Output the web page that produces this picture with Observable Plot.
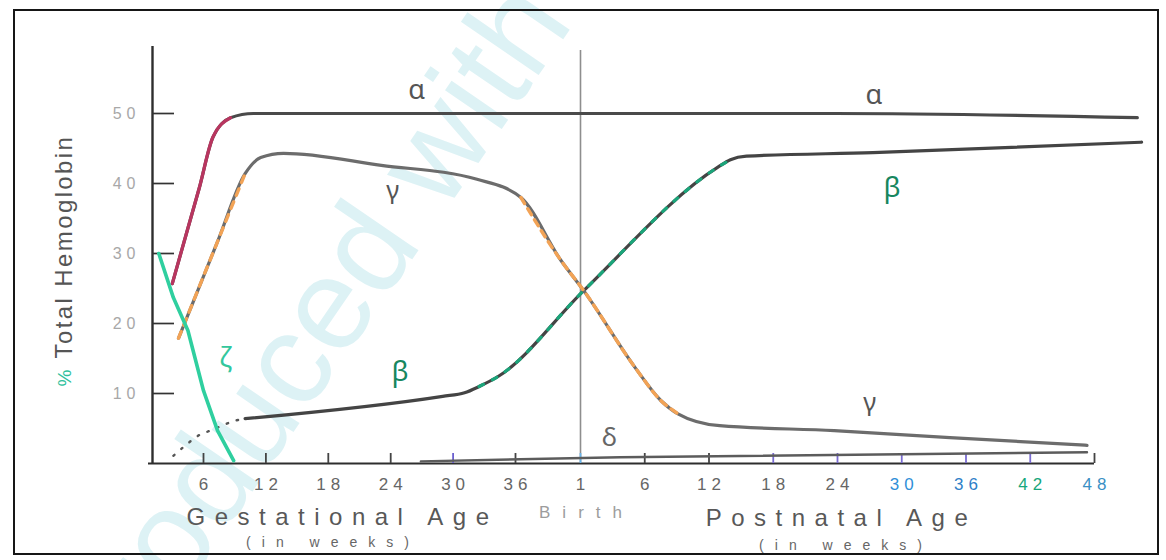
<!DOCTYPE html>
<html>
<head>
<meta charset="utf-8">
<script src="https://cdn.jsdelivr.net/npm/d3@7"></script>
<script src="https://cdn.jsdelivr.net/npm/@observablehq/plot@0.6"></script>
<style>
  html, body { margin: 0; padding: 0; background: #fff; }
  #wrap { position: relative; width: 1166px; height: 560px; overflow: hidden; background: #fff; }
  #wm { position: absolute; left: 0; top: 0; }
  #frame { position: absolute; left: 13px; top: 9px; width: 1146px; height: 546px; border: 2px solid #161616; box-sizing: border-box; }
  #chart { position: absolute; left: 0; top: 0; }
</style>
</head>
<body>
<div id="wrap">
  <svg id="wm" width="1166" height="560">
    <text transform="translate(22,827) rotate(-55.5)" font-family="Liberation Sans" font-size="130" fill="#ddf2f5">Reproduced with</text>
  </svg>
  <div id="frame"></div>
  <div id="chart"></div>
</div>
<script>
// ---------- data ----------
// shared week axis: gestational week w -> w, birth -> 42, postnatal week w -> 42 + w
const gestTickWeeks = [6, 12, 18, 24, 30, 36];
const postTickWeeks = [6, 12, 18, 24, 30, 36, 42, 48];
const birthPos = 42;
const birthTickLabel = "1";
const yTicks = [10, 20, 30, 40, 50];
const yTickLabels = ["10", "20", "30", "40", "50"];

const alphaWeek = [3.0, 5.6, 6.9, 8.6, 10.8, 65.7, 94.0];
const alphaPct  = [25.7, 39.4, 46.6, 49.4, 50.0, 50.0, 49.4];

const gammaWeek = [3.6, 7.35, 10.0, 11.5, 13.7, 23.1, 32.3, 36.5, 40.2, 42.3, 47.1, 49.5, 51.1, 55.0, 65.7, 76.5, 89.3];
const gammaPct  = [17.9, 31.7, 41.4, 43.7, 44.3, 42.6, 40.6, 38.0, 29.0, 24.7, 13.7, 9.0, 7.1, 5.4, 4.7, 3.7, 2.6];

const betaWeek = [10.0, 29.0, 31.1, 32.5, 34.4, 42.3, 54.8, 56.0, 57.5, 69.3, 94.4];
const betaPct  = [6.4, 9.6, 10.1, 11.0, 12.5, 24.7, 42.3, 43.4, 43.9, 44.4, 45.9];

const betaEarlyWeek = [3.1, 4.5, 5.5, 8.9, 10.0];
const betaEarlyPct  = [1.1, 2.9, 4.0, 6.1, 6.4];

const zetaWeek = [1.7, 3.1, 4.5, 6.0, 7.35, 8.9];
const zetaPct  = [30.0, 23.7, 19.0, 10.4, 4.7, 0.4];

const deltaWeek = [26.9, 45.7, 89.3];
const deltaPct  = [0.3, 0.9, 1.6];

const greekNames = ["α", "α", "γ", "γ", "β", "β", "ζ", "δ"];
const greekWeek  = [26.5, 69.4, 24.2, 69.0, 24.9, 71.1, 8.1, 44.7];
const greekPct   = [53.3, 52.6, 38.9, 8.7, 13.0, 39.4, 15.0, 3.7];

// ---------- styles ----------
const gestTickInk = ["#444", "#444", "#444", "#444", "#6b5fcf", "#444"];
const birthTickInk = "#69b4ea";
const postTickInk = ["#444", "#444", "#7a6cd2", "#7a6cd2", "#7a6cd2", "#7a6cd2", "#7a6cd2", "#444"];
const gestLabelInk = "#666";
const postLabelInk = ["#666", "#666", "#666", "#666", "#2f8fd8", "#2f7fc8", "#16a67c", "#3a90c4"];
const greekStyle = {
  "α": {fill: "#555", font: "Liberation Serif", size: 27, weight: "normal"},
  "γ": {fill: "#555", font: "Liberation Serif", size: 25, weight: "normal"},
  "β": {fill: "#17875f", font: "Liberation Sans", size: 28, weight: "bold"},
  "ζ": {fill: "#33c79d", font: "Liberation Sans", size: 27, weight: "normal"},
  "δ": {fill: "#666", font: "Liberation Serif", size: 26, weight: "normal"}
};

// ---------- tables ----------
const rows = (xs, ys) => xs.map((x, i) => ({x, y: ys[i]}));
const alpha = rows(alphaWeek, alphaPct);
const gamma = rows(gammaWeek, gammaPct);
const beta = rows(betaWeek, betaPct);
const betaEarly = rows(betaEarlyWeek, betaEarlyPct);
const zeta = rows(zetaWeek, zetaPct);
const delta = rows(deltaWeek, deltaPct);
const greek = greekNames.map((t, i) => ({t, x: greekWeek[i], y: greekPct[i], ...greekStyle[t]}));

const xTickRows = [
  ...gestTickWeeks.map((w, i) => ({pos: w, label: String(w), tick: gestTickInk[i], ink: gestLabelInk})),
  {pos: birthPos, label: birthTickLabel, tick: birthTickInk, ink: gestLabelInk},
  ...postTickWeeks.map((w, i) => ({pos: birthPos + w, label: String(w), tick: postTickInk[i], ink: postLabelInk[i]}))
];

// ---------- scales (piecewise to follow the hand-drawn axis) ----------
const xDomain = [6, 36, birthPos, birthPos + 48];
const xRange = [203, 515, 580, 1094];
const yDomain = [0, 50];
const yRange = [463, 113];
const xsc = d3.scaleLinear(xDomain, xRange);
const ysc = d3.scaleLinear(yDomain, yRange);
const yAxisPos = xsc.invert(152);
const xAxisStart = xsc.invert(148);
const xAxisEnd = birthPos + postTickWeeks[postTickWeeks.length - 1];
const yAxisTop = ysc.invert(46);
const birthTop = ysc.invert(50);
const yTickEnd = xsc.invert(xsc(yAxisPos) + 22);
const xTickTop = ysc.invert(ysc(0) - 10);

const curve = "monotone-x";
const sans = "Liberation Sans";

const chart = Plot.plot({
  width: 1166,
  height: 560,
  marginLeft: 152,
  marginRight: 20,
  marginTop: 46,
  marginBottom: 97,
  style: {background: "transparent", overflow: "visible"},
  x: {type: "linear", domain: xDomain, range: xRange, axis: null},
  y: {type: "linear", domain: yDomain, range: yRange, axis: null},
  color: {type: "identity"},
  marks: [
    // birth line
    Plot.ruleX([birthPos], {y1: 0, y2: birthTop, stroke: "#8e8e8e", strokeWidth: 1.6}),
    // axes
    Plot.ruleX([yAxisPos], {y1: 0, y2: yAxisTop, stroke: "#2e2e2e", strokeWidth: 2.4}),
    Plot.ruleY([0], {x1: xAxisStart, x2: xAxisEnd, stroke: "#2e2e2e", strokeWidth: 2.2}),
    Plot.ruleY(yTicks, {y: d => d, x1: yAxisPos, x2: yTickEnd, stroke: "#333", strokeWidth: 1.7}),
    Plot.ruleX(xTickRows, {x: "pos", y1: 0, y2: xTickTop, stroke: "tick", strokeWidth: 1.8}),
    // tick labels
    Plot.text(xTickRows, {x: "pos", y: 0, text: "label", dy: 21, dx: 2.5, fill: "ink", fontSize: 17, fontFamily: sans, ariaDescription: "xticklabels"}),
    Plot.text(yTicks, {x: yAxisPos, y: d => d, text: (d, i) => yTickLabels[i], textAnchor: "end", dx: -12, fill: "#a8a8a8", fontSize: 16, fontFamily: sans, ariaDescription: "yticklabels"}),
    // curves
    Plot.line(delta, {x: "x", y: "y", stroke: "#5c5c5c", strokeWidth: 2.4}),
    Plot.line(betaEarly, {x: "x", y: "y", stroke: "#555", strokeWidth: 2.4, strokeDasharray: "1.5,9", strokeLinecap: "round"}),
    Plot.line(beta, {x: "x", y: "y", stroke: "#444", strokeWidth: 3.2, curve}),
    Plot.line(beta.filter(d => d.x >= 32.5 && d.x <= 56), {x: "x", y: "y", stroke: "#1aa57a", strokeWidth: 3.2, strokeDasharray: "5,10", curve}),
    Plot.line(gamma, {x: "x", y: "y", stroke: "#6c6c6c", strokeWidth: 3.2, curve}),
    Plot.line(gamma.filter(d => d.x <= 10), {x: "x", y: "y", stroke: "#f2a356", strokeWidth: 3.4, strokeDasharray: "7,7", curve}),
    Plot.line(gamma.filter(d => d.x >= 36.5 && d.x <= 51.1), {x: "x", y: "y", stroke: "#f2a356", strokeWidth: 3.4, strokeDasharray: "7,6", curve}),
    Plot.line(alpha, {x: "x", y: "y", stroke: "#4a4a4a", strokeWidth: 3.2, curve}),
    Plot.line(alpha.filter(d => d.x <= 8.6), {x: "x", y: "y", stroke: "#b8355f", strokeWidth: 3.3, curve}),
    Plot.line(zeta, {x: "x", y: "y", stroke: "#2fcf9f", strokeWidth: 3.6}),
    // greek labels
    Plot.text(greek, {x: "x", y: "y", text: "t", fill: "fill", fontSize: d => d.size, fontFamily: d => d.font, fontWeight: d => d.weight}),
    // axis titles
    Plot.text(["Birth"], {x: birthPos, y: 0, text: d => d, dy: 49, dx: 6, fill: "#9c9c9c", fontSize: 17, fontFamily: sans, ariaDescription: "birth"}),
    Plot.text(["Gestational Age"], {x: xsc.invert(337), y: 0, text: d => d, dy: 54, dx: 5, fill: "#585858", fontSize: 24, fontFamily: sans, ariaDescription: "bigtitle"}),
    Plot.text(["(in weeks)"], {x: xsc.invert(327), y: 0, text: d => d, dy: 79, dx: 5.5, fill: "#666", fontSize: 14, fontFamily: sans, ariaDescription: "smalltitle"}),
    Plot.text(["Postnatal Age"], {x: xsc.invert(836), y: 0, text: d => d, dy: 55, dx: 5, fill: "#585858", fontSize: 24, fontFamily: sans, ariaDescription: "bigtitle"}),
    Plot.text(["(in weeks)"], {x: xsc.invert(840), y: 0, text: d => d, dy: 82, dx: 5.5, fill: "#666", fontSize: 14, fontFamily: sans, ariaDescription: "smalltitle"}),
    // y title
    Plot.text(["Total Hemoglobin"], {frameAnchor: "left", y: ysc.invert(358), text: d => d, dx: -88, rotate: -90, textAnchor: "start", fill: "#555", fontSize: 24, fontFamily: sans, ariaDescription: "ytitle"}),
    Plot.text(["%"], {frameAnchor: "left", y: ysc.invert(386), text: d => d, dx: -88, rotate: -90, textAnchor: "start", fill: "#2fbf9c", fontSize: 19, fontFamily: sans})
  ]
});

const root = d3.select(chart);
root.selectAll('g[aria-description="xticklabels"]').style("letter-spacing", "5px");
root.selectAll('g[aria-description="yticklabels"]').style("letter-spacing", "5px");
root.selectAll('g[aria-description="birth"]').style("letter-spacing", "12px");
root.selectAll('g[aria-description="bigtitle"]').style("letter-spacing", "9.5px");
root.selectAll('g[aria-description="smalltitle"]').style("letter-spacing", "11px");
root.selectAll('g[aria-description="ytitle"]').style("letter-spacing", "2.4px");

document.getElementById("chart").appendChild(chart);
</script>
</body>
</html>
